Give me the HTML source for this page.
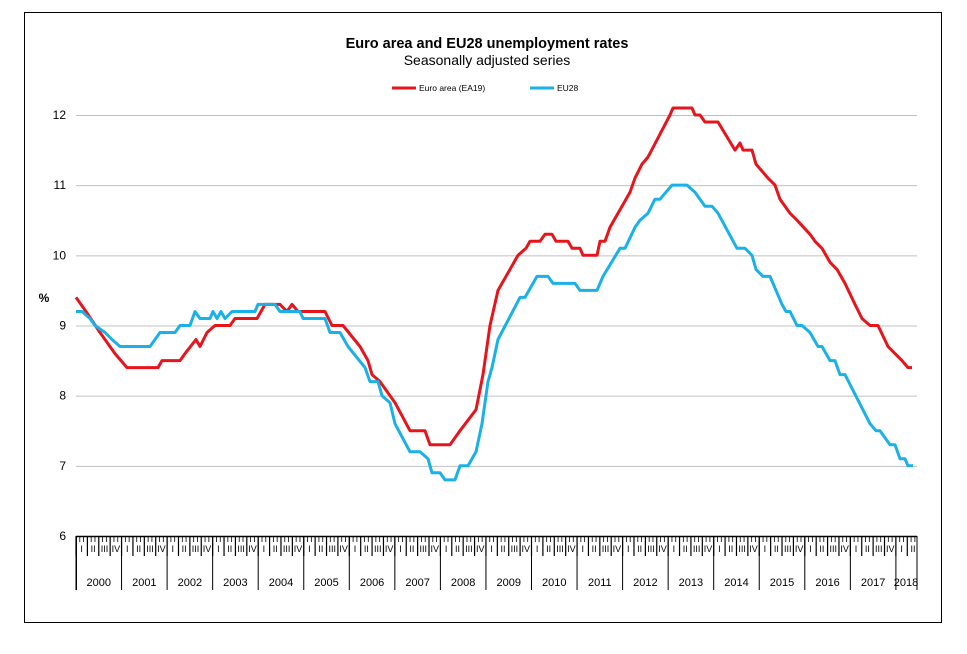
<!DOCTYPE html>
<html><head><meta charset="utf-8"><style>
body{margin:0;background:#fff;}
svg{display:block;font-family:"Liberation Sans",Arial,sans-serif;}
</style></head><body>
<svg id="s" width="967" height="654" xmlns="http://www.w3.org/2000/svg">
<rect x="24.5" y="12.5" width="917" height="610" fill="#fff" stroke="#000" stroke-width="1"/>
<text x="487" y="48" text-anchor="middle" font-size="14.5" font-weight="bold">Euro area and EU28 unemployment rates</text>
<text x="487" y="65" text-anchor="middle" font-size="14">Seasonally adjusted series</text>
<line x1="392" y1="88" x2="416" y2="88" stroke="#e8141b" stroke-width="3"/>
<text x="419" y="91" font-size="8.5">Euro area (EA19)</text>
<line x1="530" y1="88" x2="554" y2="88" stroke="#1ab0e8" stroke-width="3"/>
<text x="557" y="91" font-size="8.5">EU28</text>
<g id="grid" stroke="#c0c0c0" stroke-width="1"></g>
<g id="ylab" font-size="12" text-anchor="end"></g>
<text x="44" y="302" font-size="12" font-weight="bold" text-anchor="middle">%</text>
<g id="ax" stroke="#000" stroke-width="1"></g>
<g id="xl" font-size="11"></g>
<polyline id="ea" fill="none" stroke="#e8141b" stroke-width="3" stroke-linejoin="round"/>
<polyline id="eu" fill="none" stroke="#1ab0e8" stroke-width="3" stroke-linejoin="round"/>
</svg>
<script>
var NS="http://www.w3.org/2000/svg";
function el(p,t,a,txt){var e=document.createElementNS(NS,t);for(var k in a)e.setAttribute(k,a[k]);if(txt)e.textContent=txt;document.getElementById(p).appendChild(e);return e;}
function Y(v){return 536-(v-6)*70.17;}
for(var v=6;v<=12;v++){var y=Y(v);if(v>6)el("grid","line",{x1:76,x2:917,y1:y+0.5,y2:y+0.5});el("ylab","text",{x:66,y:y+4},String(v));}
el("ax","line",{x1:76.5,y1:536,x2:76.5,y2:590});
el("ax","line",{x1:76,y1:536.5,x2:917,y2:536.5,"stroke-width":1.5});
var yw=45.55,mw=yw/12,x0=76;
for(var m=0;m<=221;m++){var x=x0+m*mw;if(x>917)break;var q=(m%3==0);el("ax","line",{x1:x,y1:536,x2:x,y2:q?556:542,"stroke-width":q?1.2:0.8});}
var rom=["I","II","III","IV"];
for(var yr=0;yr<19;yr++){var xs=x0+yr*yw;el("ax","line",{x1:xs,y1:536,x2:xs,y2:590});
 for(var qq=0;qq<4;qq++){var cx=xs+(qq*3+1.5)*mw;if(cx>914)break;el("xl","text",{x:cx,y:552,"text-anchor":"middle","font-size":9},rom[qq]);}
 var lx=yr<18?xs+yw/2:906;el("xl","text",{x:lx,y:586,"text-anchor":"middle"},String(2000+yr));}
el("ax","line",{x1:917,y1:536,x2:917,y2:590});
var ea=[76,9.4,86,9.2,100,8.9,115,8.6,127,8.4,158,8.4,162,8.5,180,8.5,185,8.6,196,8.8,200,8.7,207,8.9,215,9.0,230,9.0,235,9.1,257,9.1,265,9.3,280,9.3,287,9.2,292,9.3,298,9.2,325,9.2,332,9.0,343,9.0,360,8.7,368,8.5,372,8.3,380,8.2,395,7.9,410,7.5,425,7.5,430,7.3,450,7.3,460,7.5,476,7.8,483,8.3,490,9.0,498,9.5,518,10.0,526,10.1,530,10.2,540,10.2,545,10.3,552,10.3,556,10.2,568,10.2,572,10.1,580,10.1,583,10.0,597,10.0,600,10.2,605,10.2,610,10.4,630,10.9,635,11.1,642,11.3,648,11.4,670,12.0,673,12.1,692,12.1,695,12.0,700,12.0,705,11.9,718,11.9,735,11.5,740,11.6,743,11.5,752,11.5,756,11.3,768,11.1,775,11.0,780,10.8,790,10.6,797,10.5,810,10.3,815,10.2,822,10.1,830,9.9,837,9.8,845,9.6,855,9.3,862,9.1,870,9.0,878,9.0,888,8.7,895,8.6,902,8.5,908,8.4,912,8.4];
var eu=[76,9.2,82,9.2,90,9.1,95,9.0,105,8.9,112,8.8,120,8.7,150,8.7,155,8.8,160,8.9,175,8.9,180,9.0,190,9.0,195,9.2,200,9.1,210,9.1,213,9.2,217,9.1,221,9.2,225,9.1,232,9.2,255,9.2,258,9.3,275,9.3,280,9.2,300,9.2,303,9.1,325,9.1,330,8.9,340,8.9,348,8.7,365,8.4,370,8.2,378,8.2,382,8.0,390,7.9,395,7.6,410,7.2,420,7.2,428,7.1,432,6.9,440,6.9,445,6.8,455,6.8,460,7.0,468,7.0,476,7.2,482,7.6,488,8.2,492,8.4,498,8.8,520,9.4,525,9.4,537,9.7,548,9.7,553,9.6,575,9.6,580,9.5,597,9.5,603,9.7,620,10.1,625,10.1,635,10.4,640,10.5,648,10.6,655,10.8,660,10.8,672,11.0,687,11.0,695,10.9,705,10.7,712,10.7,718,10.6,737,10.1,745,10.1,752,10.0,756,9.8,763,9.7,770,9.7,776,9.5,782,9.3,786,9.2,790,9.2,797,9.0,802,9.0,810,8.9,818,8.7,822,8.7,830,8.5,835,8.5,840,8.3,845,8.3,870,7.6,876,7.5,880,7.5,890,7.3,895,7.3,900,7.1,905,7.1,908,7.0,913,7.0];
function pts(a){var s=[];for(var i=0;i<a.length;i+=2)s.push(a[i]+","+Y(a[i+1]).toFixed(1));return s.join(" ");}
document.getElementById("ea").setAttribute("points",pts(ea));
document.getElementById("eu").setAttribute("points",pts(eu));
</script>
</body></html>
